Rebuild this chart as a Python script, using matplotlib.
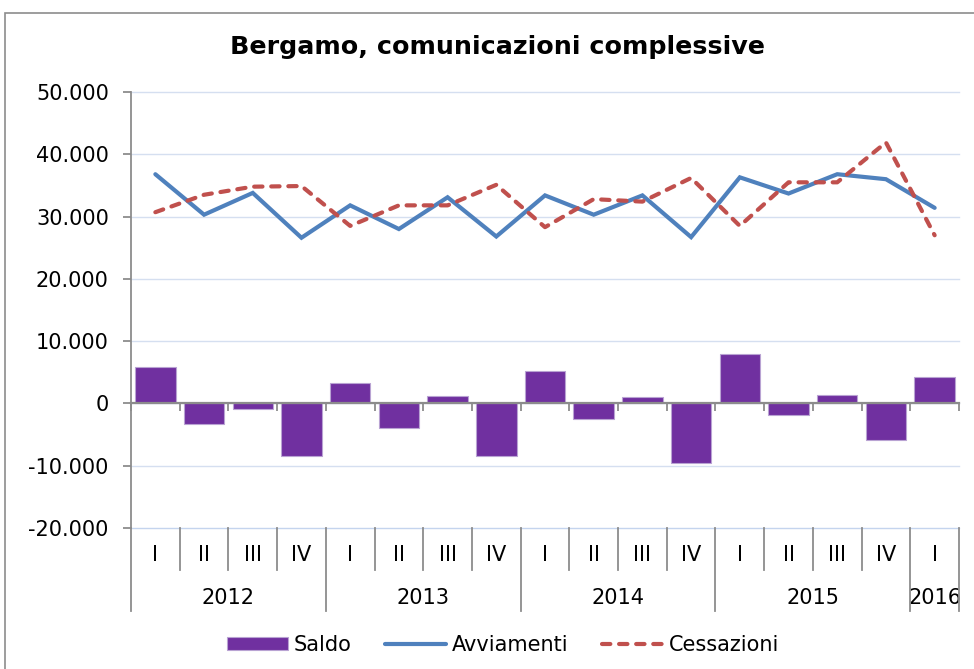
import matplotlib
matplotlib.use("Agg")
import matplotlib.pyplot as plt
import matplotlib.transforms as mtransforms
from matplotlib.patches import Rectangle
from matplotlib.lines import Line2D
from matplotlib.ticker import FuncFormatter

plt.rcParams['font.family'] = ['DejaVu Sans']

title = "Bergamo, comunicazioni complessive"
quarters = ["I", "II", "III", "IV", "I", "II", "III", "IV", "I", "II", "III", "IV",
            "I", "II", "III", "IV", "I"]
years = ["2012", "2013", "2014", "2015", "2016"]
year_counts = [4, 4, 4, 4, 1]

saldo = [5900, -3300, -900, -8400, 3200, -3900, 1250, -8500, 5200,
         -2500, 1000, -9550, 7900, -1900, 1400, -5900, 4200]
avviamenti = [36800, 30300, 33800, 26600, 31800, 28000, 33100, 26800, 33400,
              30300, 33400, 26700, 36300, 33700, 36800, 36000, 31400]
cessazioni = [30700, 33500, 34800, 34900, 28500, 31800, 31800, 35100, 28300,
              32800, 32400, 36200, 28500, 35500, 35500, 41900, 27000]

W, H = 974, 669
fig = plt.figure(figsize=(W / 100, H / 100), dpi=100)

# outer border
fig.patches.append(Rectangle((5 / W, -0.1), 1.2, 0.1 + (H - 13) / H,
                             transform=fig.transFigure, fill=False,
                             edgecolor='#8c8c8c', linewidth=1.2, zorder=0))

left, right = 131 / W, 959 / W
bottom, top = (H - 528) / H, (H - 92) / H
ax = fig.add_axes([left, bottom, right - left, top - bottom])

n = len(quarters)
x = list(range(n))

b = ax.bar(x, saldo, width=0.83, color='#7030A0', edgecolor='#B9A3D3',
           linewidth=0.8, label='Saldo', zorder=2)
l1, = ax.plot(x, avviamenti, color='#4F81BD', lw=3.0, solid_capstyle='round',
              solid_joinstyle='miter', label='Avviamenti', zorder=3)
l2, = ax.plot(x, cessazioni, color='#C0504D', lw=3.0, linestyle=(0, (2.0, 2.1)),
              dash_capstyle='round', dash_joinstyle='round', label='Cessazioni',
              zorder=3)

ax.set_xlim(-0.5, n - 0.5)
ax.set_ylim(-20000, 50000)
ax.set_yticks(range(-20000, 50001, 10000))
ax.yaxis.set_major_formatter(FuncFormatter(
    lambda v, p: f"{int(v):,}".replace(",", ".")))
grid_color = '#D5DFF0'
for gv in range(-20000, 50001, 10000):
    ax.axhline(gv, color=grid_color if gv != -20000 else '#C4D4EE', lw=1.0,
               zorder=0.5, clip_on=False)

for s in ['top', 'right']:
    ax.spines[s].set_visible(False)
ax.spines['left'].set_color('#8c8c8c')
ax.spines['left'].set_linewidth(1.3)
ax.spines['bottom'].set_position(('data', 0))
ax.spines['bottom'].set_color('#8c8c8c')
ax.spines['bottom'].set_linewidth(1.6)
ax.spines['bottom'].set_zorder(4)

ax.set_xticks([i - 0.5 for i in range(n + 1)])
ax.set_xticklabels([])
ax.tick_params(axis='x', direction='out', length=6, width=1.3, color='#8c8c8c')
ax.tick_params(axis='y', direction='out', length=6, width=1.3, color='#8c8c8c',
               labelsize=15, pad=10, labelcolor='#000000')

# category labels below plot
trans = mtransforms.blended_transform_factory(ax.transData, fig.transFigure)
y_axis_bottom = bottom
y_q = (H - 555) / H
y_y = (H - 598) / H
y_qsep = (H - 570) / H
y_ysep = (H - 611) / H
sep_color = '#8c8c8c'

for i, q in enumerate(quarters):
    ax.text(i, y_q, q, transform=trans, ha='center', va='center', fontsize=15,
            clip_on=False)

year_bounds = [0]
for c in year_counts:
    year_bounds.append(year_bounds[-1] + c)

for bi in range(n + 1):
    xb = bi - 0.5
    y0 = y_ysep if bi in year_bounds else y_qsep
    fig.add_artist(Line2D([xb, xb], [y_axis_bottom, y0], transform=trans,
                          color=sep_color, lw=1.3))

for yi, yr in enumerate(years):
    cx = (year_bounds[yi] + year_bounds[yi + 1]) / 2 - 0.5
    ax.text(cx, y_y, yr, transform=trans, ha='center', va='center', fontsize=15,
            clip_on=False)

fig.text(497.5 / W, (H - 47) / H, title, ha='center', va='center',
         fontsize=18.3, fontweight='bold')

fig.legend([b, l1, l2], ['Saldo', 'Avviamenti', 'Cessazioni'], loc='center',
           bbox_to_anchor=(503 / W, (H - 645) / H),
           ncol=3, frameon=False, fontsize=15, handlelength=2.9,
           handletextpad=0.3, columnspacing=1.6, handleheight=0.6)

fig.savefig("out.png", dpi=100)
